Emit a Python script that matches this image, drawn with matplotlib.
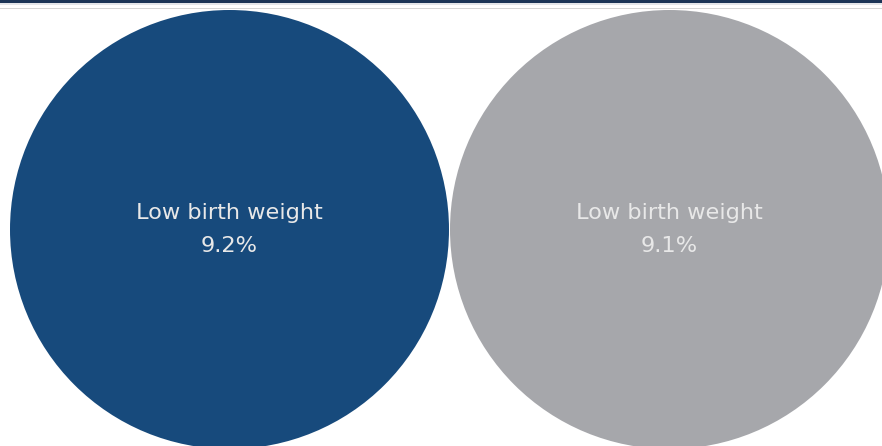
import matplotlib
matplotlib.use("Agg")
import matplotlib.pyplot as plt
from matplotlib.patches import Circle, Rectangle

labels = ["Low birth weight", "Low birth weight"]
values = [9.2, 9.1]
colors = ["#174a7c", "#a6a7ab"]

W, H = 882, 446
fig = plt.figure(figsize=(W / 100, H / 100), dpi=100)
ax = fig.add_axes([0, 0, 1, 1])
ax.set_xlim(0, W)
ax.set_ylim(H, 0)
ax.set_aspect("equal")
ax.axis("off")

# header strip
ax.add_patch(Rectangle((0, 0), W, 3.2, color="#1c3557", lw=0))
ax.add_patch(Rectangle((0, 3.2), W, 1.5, color="#e4e6ea", lw=0))
ax.add_patch(Rectangle((0, 8.3), W, 1.0, color="#d6d6d6", lw=0))

r = 219.5
centers = [(229.5, 229.5), (669.5, 229.5)]
for (cx, cy), col, lab, v in zip(centers, colors, labels, values):
    ax.add_patch(Circle((cx, cy), r, color=col, lw=0))
    ax.text(cx, 213, lab, ha="center", va="center", color="#e8e8e8",
            fontsize=16.2, family="DejaVu Sans")
    ax.text(cx, 246, f"{v}%", ha="center", va="center", color="#e8e8e8",
            fontsize=16.2, family="DejaVu Sans")

fig.savefig("out.png", dpi=100)
